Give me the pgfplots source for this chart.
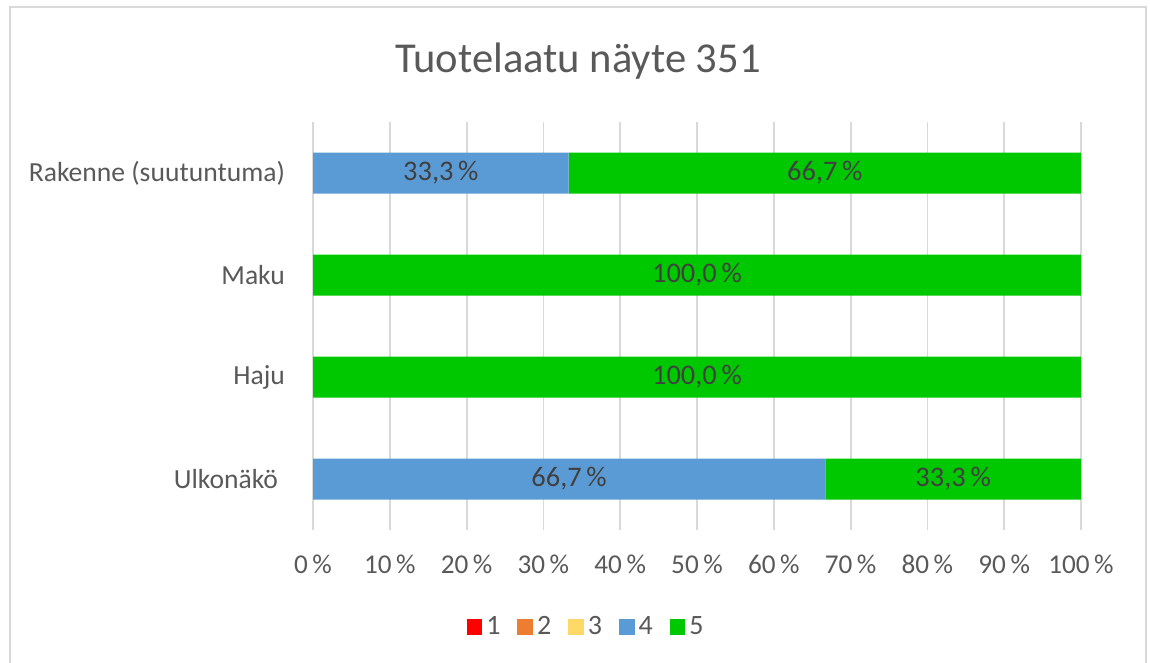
\documentclass[border=0pt]{standalone}
\usepackage{pgfplots}
\pgfplotsset{compat=1.18}
\usepackage{fontspec}
\setmainfont{Carlito}
\definecolor{c1}{HTML}{FF0000}
\definecolor{c2}{HTML}{ED7D31}
\definecolor{c3}{HTML}{FFD966}
\definecolor{c4}{HTML}{5B9BD5}
\definecolor{c5}{HTML}{00C800}
\definecolor{txt}{HTML}{595959}
\definecolor{lab}{HTML}{404040}
\definecolor{gridc}{HTML}{D9D9D9}
\definecolor{frame}{HTML}{D9D9D9}
\begin{document}
\begin{tikzpicture}
\path[use as bounding box] (0,0) rectangle (575pt,-331.5pt);
\draw[color=frame, line width=1pt] (4.75pt,-3.5pt) rectangle (573pt,-340pt);
\node[text=txt, font=\fontsize{21.3}{25}\selectfont] at (289pt,-30.5pt) {Tuotelaatu näyte 351};
\begin{axis}[
  at={(156.5pt,-265pt)}, anchor=south west,
  scale only axis, width=384pt, height=204pt,
  xbar stacked, bar width=20.5pt,
  xmin=0, xmax=100, ymin=-0.5, ymax=3.5,
  ytick={0,1,2,3},
  yticklabels={\hbox{Ulkonäkö\kern3.5pt},Haju,Maku,Rakenne (suutuntuma)},
  xtick={0,10,...,100},
  xticklabels={0\,\%,10\,\%,20\,\%,30\,\%,40\,\%,50\,\%,60\,\%,70\,\%,80\,\%,90\,\%,100\,\%},
  xmajorgrids, grid style={color=gridc, line width=0.9pt},
  axis line style={draw=none},
  major tick length=0pt,
  yticklabel style={text=txt, font=\fontsize{13.8}{16}\selectfont, xshift=-10.5pt},
  xticklabel style={text=txt, font=\fontsize{13.6}{16}\selectfont, yshift=-9pt},
  legend style={at={(0.357,-0.238)}, anchor=center, draw=none, fill=none,
    legend columns=5, font=\fontsize{14}{16}\selectfont, text=txt,
    /tikz/every even column/.append style={column sep=6.5pt}},
  legend image code/.code={\fill[#1] (0pt,-3.9pt) rectangle (7.8pt,3.9pt);},
]
\addplot[fill=c1, draw=none] coordinates {(0,0) (0,1) (0,2) (0,3)};
\addplot[fill=c2, draw=none] coordinates {(0,0) (0,1) (0,2) (0,3)};
\addplot[fill=c3, draw=none] coordinates {(0,0) (0,1) (0,2) (0,3)};
\addplot[fill=c4, draw=none] coordinates {(66.7,0) (0,1) (0,2) (33.3,3)};
\addplot[fill=c5, draw=none] coordinates {(33.3,0) (100,1) (100,2) (66.7,3)};
\legend{1,2,3,4,5}
\end{axis}
\begin{axis}[
  at={(156.5pt,-265pt)}, anchor=south west,
  scale only axis, width=384pt, height=204pt,
  xmin=0, xmax=100, ymin=-0.5, ymax=3.5, hide axis,
]
\addplot[draw=none, mark=none, nodes near coords, point meta=explicit symbolic,
  nodes near coords style={anchor=center, text=lab, font=\fontsize{14.2}{16}\selectfont}]
  coordinates {(16.65,3) [33,3\,\%] (66.65,3) [66,7\,\%] (50,2) [100,0\,\%] (50,1) [100,0\,\%] (33.35,0) [66,7\,\%] (83.35,0) [33,3\,\%]};
\end{axis}
\end{tikzpicture}
\end{document}
